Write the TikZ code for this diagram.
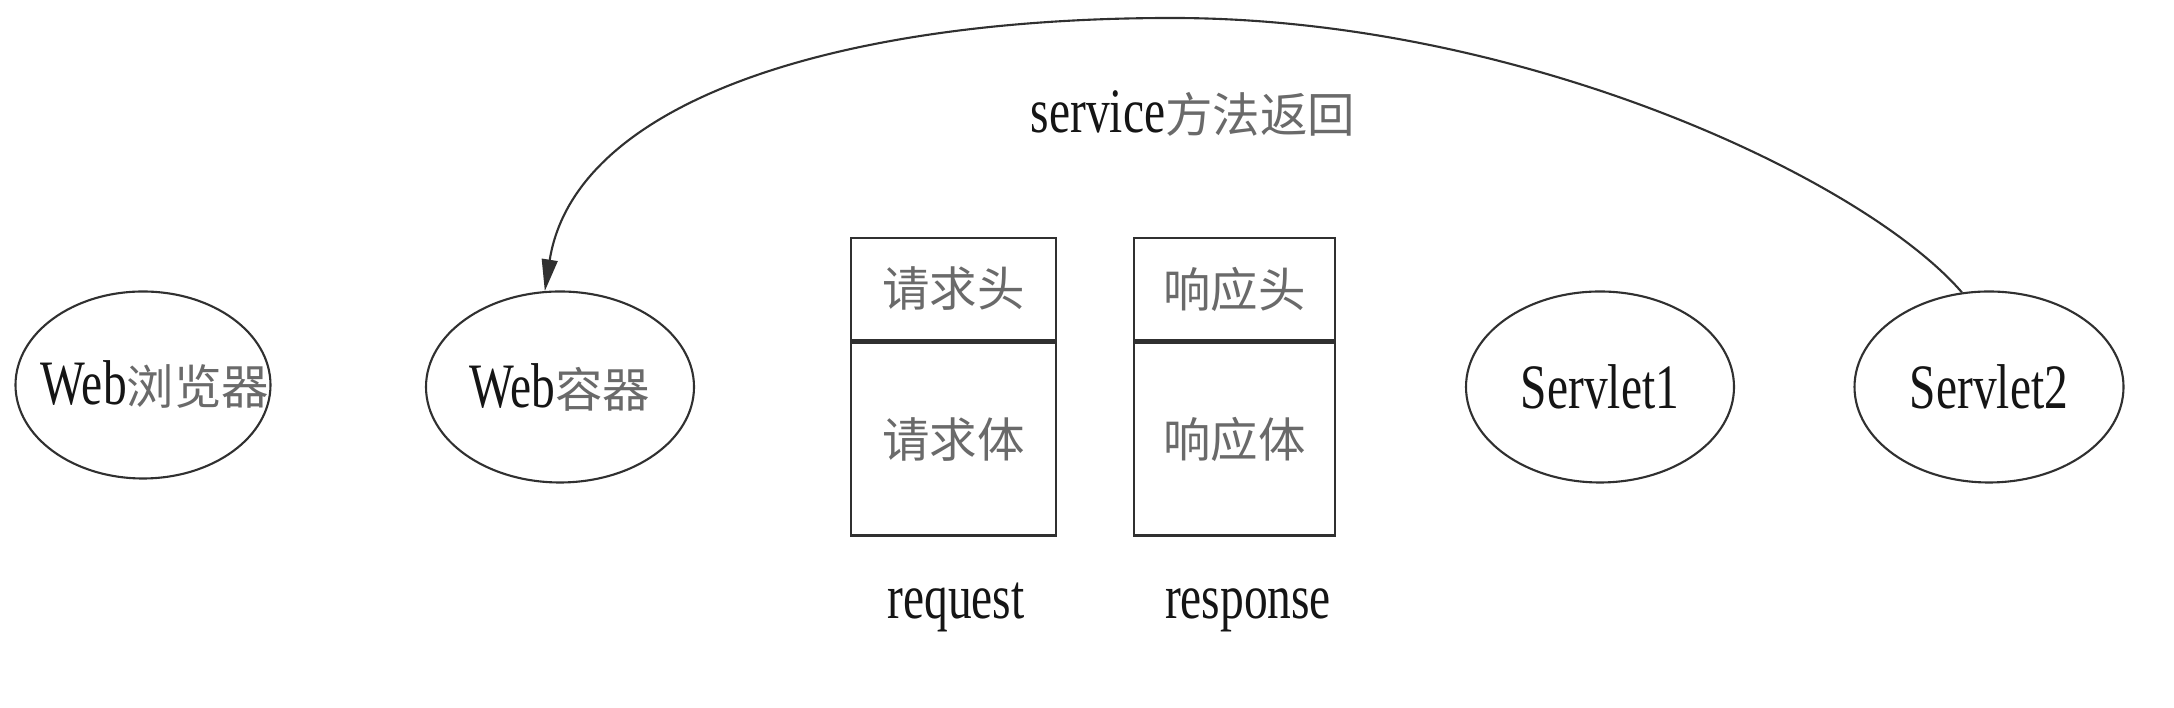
\documentclass[tikz,border=0pt]{standalone}
\usepackage{fontspec}
\setmainfont{Liberation Serif}[FakeStretch=0.75]
\newfontfamily\cjk{Noto Sans CJK SC}
\usepackage{xcolor}
\usepackage{tikz}
\usetikzlibrary{arrows.meta,calc,positioning,shapes.geometric}
\definecolor{flowink}{HTML}{151515}
\definecolor{flowline}{HTML}{303030}
\definecolor{flowzh}{HTML}{6A6A6A}
\newcommand{\zh}[1]{{\cjk\fontsize{13.5}{16}\selectfont\color{flowzh}#1}}

\begin{document}
\begin{tikzpicture}[
    x=1cm,
    y=1cm,
    >=Stealth,
    actor/.style={ellipse, draw=flowline, line width=0.6pt, inner sep=0pt, minimum width=2.68cm, minimum height=1.91cm, font=\fontsize{18}{20}\selectfont, text=flowink},
    part/.style={rectangle, draw=flowline, line width=0.75pt, inner sep=0pt, minimum height=1.02cm},
    caption/.style={inner sep=0pt, font=\fontsize{18}{20}\selectfont, text=flowink},
    back/.style={-{Triangle[length=9pt,width=4.5pt]}, line width=0.6pt, draw=flowline}
  ]
    \fill[white] (0,0) rectangle (21.74,7.08);
    \useasboundingbox (0,0) rectangle (21.74,7.08);

    % the browser text is wider than the ellipse allows, so it sits on top as a label
    \node[actor, minimum width=2.55cm, minimum height=1.87cm,
      label={[caption, xshift=0.12cm]center:Web\zh{浏览器}}] (browser) at (1.43,3.23) {};
    \node[actor] (container) at (5.60,3.21) {Web\zh{容器}};
    \node[actor] (servlet1) at (16.00,3.21) {Servlet1};
    \node[actor, minimum width=2.69cm] (servlet2) at (19.89,3.21) {Servlet2};

    % request / response objects
    \node[part, minimum width=2.05cm] (reqhead) at (9.535,4.19) {\zh{请求头}};
    \node[part, minimum width=2.05cm, minimum height=1.93cm, below=0pt of reqhead] (reqbody) {\zh{请求体}};
    \node[part, minimum width=2.01cm] (resphead) at (12.345,4.19) {\zh{响应头}};
    \node[part, minimum width=2.01cm, minimum height=1.93cm, below=0pt of resphead] (respbody) {\zh{响应体}};

    \node[caption, anchor=base] (reqlabel) at (9.56,0.89) {request};
    \node[caption, anchor=base] (resplabel) at (12.48,0.89) {response};

    % return path
    \coordinate (crest) at (11.72,6.90);
    \node[caption, anchor=base] (retlabel) at (11.93,5.75) {service\zh{方法返回}};
    \draw[back] (servlet2.106) .. controls (18.64,5.29) and (15.22,6.90) .. (crest)
      .. controls (8.40,6.90) and (5.75,6.08) .. (container.99);

  \end{tikzpicture}
\end{document}
